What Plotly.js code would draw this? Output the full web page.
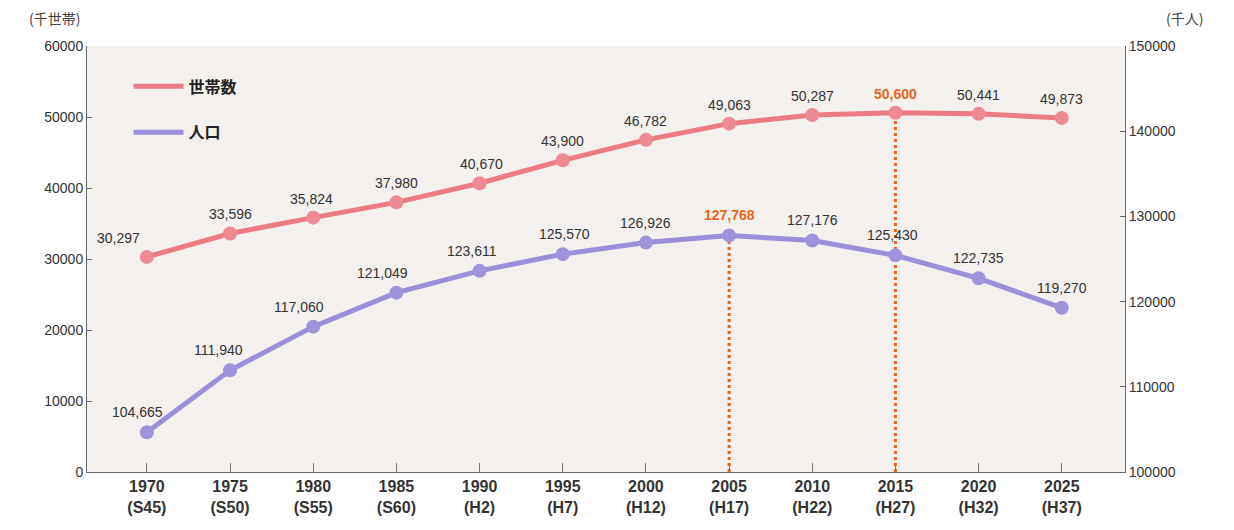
<!DOCTYPE html>
<html>
<head>
<meta charset="utf-8">
<script src="https://cdn.plot.ly/plotly-3.0.1.min.js"></script>
<style>html,body{margin:0;padding:0;background:#fff;}#chart{width:1234px;height:530px;}</style>
</head>
<body>
<div id="chart"></div>
<script>
const years = [1970, 1975, 1980, 1985, 1990, 1995, 2000, 2005, 2010, 2015, 2020, 2025];
const eraLabels = ['S45', 'S50', 'S55', 'S60', 'H2', 'H7', 'H12', 'H17', 'H22', 'H27', 'H32', 'H37'];
const households = [30297, 33596, 35824, 37980, 40670, 43900, 46782, 49063, 50287, 50600, 50441, 49873];
const population = [104665, 111940, 117060, 121049, 123611, 125570, 126926, 127768, 127176, 125430, 122735, 119270];
const householdLabelShift = [-28, 0, -2, 0, 2, 0, 0, 0, 0, 0, 0, 0];
const populationLabelShift = [-9, -12, -14, -14, -8, 2, 0, 0, 0, -3, 0, 0];
const householdPeakYear = 2015;
const populationPeakYear = 2005;

const redColor = '#ec7c84';
const purpleColor = '#9a8fd8';
const orange = '#e8661c';

const fmt = v => v.toLocaleString('en-US');

const traces = [
  {x: years, y: households, yaxis: 'y', mode: 'lines+markers', name: '世帯数', showlegend: false,
   line: {color: redColor, width: 5}, marker: {color: '#ee8a91', size: 14, line: {width: 0}}},
  {x: years, y: population, yaxis: 'y2', mode: 'lines+markers', name: '人口', showlegend: false,
   line: {color: purpleColor, width: 5}, marker: {color: '#9f93dc', size: 14, line: {width: 0}}},
  {x: [null], y: [null], yaxis: 'y', mode: 'lines', name: '世帯数', legendgroup: 'a',
   line: {color: redColor, width: 5}},
  {x: [null], y: [null], yaxis: 'y', mode: 'lines', name: '人口', legendgroup: 'b',
   line: {color: purpleColor, width: 5}}
];

const annotations = [];
years.forEach((yr, i) => {
  const hPeak = yr === householdPeakYear;
  annotations.push({x: yr, y: households[i], xref: 'x', yref: 'y', text: fmt(households[i]),
    showarrow: false, yanchor: 'bottom', yshift: 9, xshift: householdLabelShift[i],
    font: {family: 'Liberation Sans, Arial, sans-serif', size: 14, color: hPeak ? orange : '#333',
      weight: hPeak ? 'bold' : 'normal'}});
  const pPeak = yr === populationPeakYear;
  annotations.push({x: yr, y: population[i], xref: 'x', yref: 'y2', text: fmt(population[i]),
    showarrow: false, yanchor: 'bottom', yshift: 10, xshift: populationLabelShift[i],
    font: {family: 'Liberation Sans, Arial, sans-serif', size: 14, color: pPeak ? orange : '#333',
      weight: pPeak ? 'bold' : 'normal'}});
});
annotations.push({text: '(千世帯)', xref: 'paper', yref: 'paper', x: -0.058, y: 1.0, yshift: 16,
  xanchor: 'left', yanchor: 'bottom', showarrow: false,
  font: {family: 'Noto Sans CJK JP, sans-serif', size: 14, color: '#444'}});
annotations.push({text: '(千人)', xref: 'paper', yref: 'paper', x: 1.038, y: 1.0, yshift: 16,
  xanchor: 'left', yanchor: 'bottom', showarrow: false,
  font: {family: 'Noto Sans CJK JP, sans-serif', size: 14, color: '#444'}});

const hIdx = years.indexOf(householdPeakYear);
const pIdx = years.indexOf(populationPeakYear);
const shapes = [
  {type: 'line', xref: 'x', yref: 'y', x0: householdPeakYear, x1: householdPeakYear, y0: 0, y1: households[hIdx],
   line: {color: orange, width: 3, dash: 'dot'}, layer: 'below'},
  {type: 'line', xref: 'x', yref: 'y2', x0: populationPeakYear, x1: populationPeakYear, y0: 100000, y1: population[pIdx],
   line: {color: orange, width: 3, dash: 'dot'}, layer: 'below'}
];

const layout = {
  width: 1234, height: 530,
  margin: {l: 87, r: 109, t: 46, b: 58},
  paper_bgcolor: '#ffffff', plot_bgcolor: '#f3f0ed',
  font: {family: 'Liberation Sans, Arial, sans-serif', color: '#333'},
  xaxis: {range: [1966.4, 2028.8], tickmode: 'array', tickvals: years,
    ticktext: years.map((y, i) => '<b>' + y + '</b><br><b>(' + eraLabels[i] + ')</b>'),
    ticks: 'inside', ticklen: 9, tickcolor: '#777', tickwidth: 1,
    showline: true, linecolor: '#666', linewidth: 1, showgrid: false, zeroline: false,
    tickfont: {family: 'Liberation Sans Narrow, Liberation Sans, Arial, sans-serif', size: 16, color: '#333'}},
  yaxis: {range: [0, 60000], tickvals: [0, 10000, 20000, 30000, 40000, 50000, 60000],
    ticks: 'inside', ticklen: 5, tickcolor: '#666', showline: true, linecolor: '#666', linewidth: 1,
    showgrid: false, zeroline: false, tickformat: 'd',
    tickfont: {family: 'Liberation Sans, Arial, sans-serif', size: 14, color: '#333'}},
  yaxis2: {range: [100000, 150000], overlaying: 'y', side: 'right',
    tickvals: [100000, 110000, 120000, 130000, 140000, 150000],
    ticks: 'inside', ticklen: 5, tickcolor: '#666', showline: true, linecolor: '#666', linewidth: 1,
    showgrid: false, zeroline: false, tickformat: 'd',
    tickfont: {family: 'Liberation Sans, Arial, sans-serif', size: 14, color: '#333'}},
  showlegend: true,
  legend: {x: 0.04, y: 0.945, xanchor: 'left', yanchor: 'top', bgcolor: 'rgba(0,0,0,0)',
    tracegroupgap: 22, itemwidth: 50,
    font: {family: 'Noto Sans CJK JP, sans-serif', size: 16, color: '#222', weight: 'bold'}},
  annotations: annotations,
  shapes: shapes
};

Plotly.newPlot('chart', traces, layout, {displayModeBar: false, staticPlot: true});
</script>
</body>
</html>
